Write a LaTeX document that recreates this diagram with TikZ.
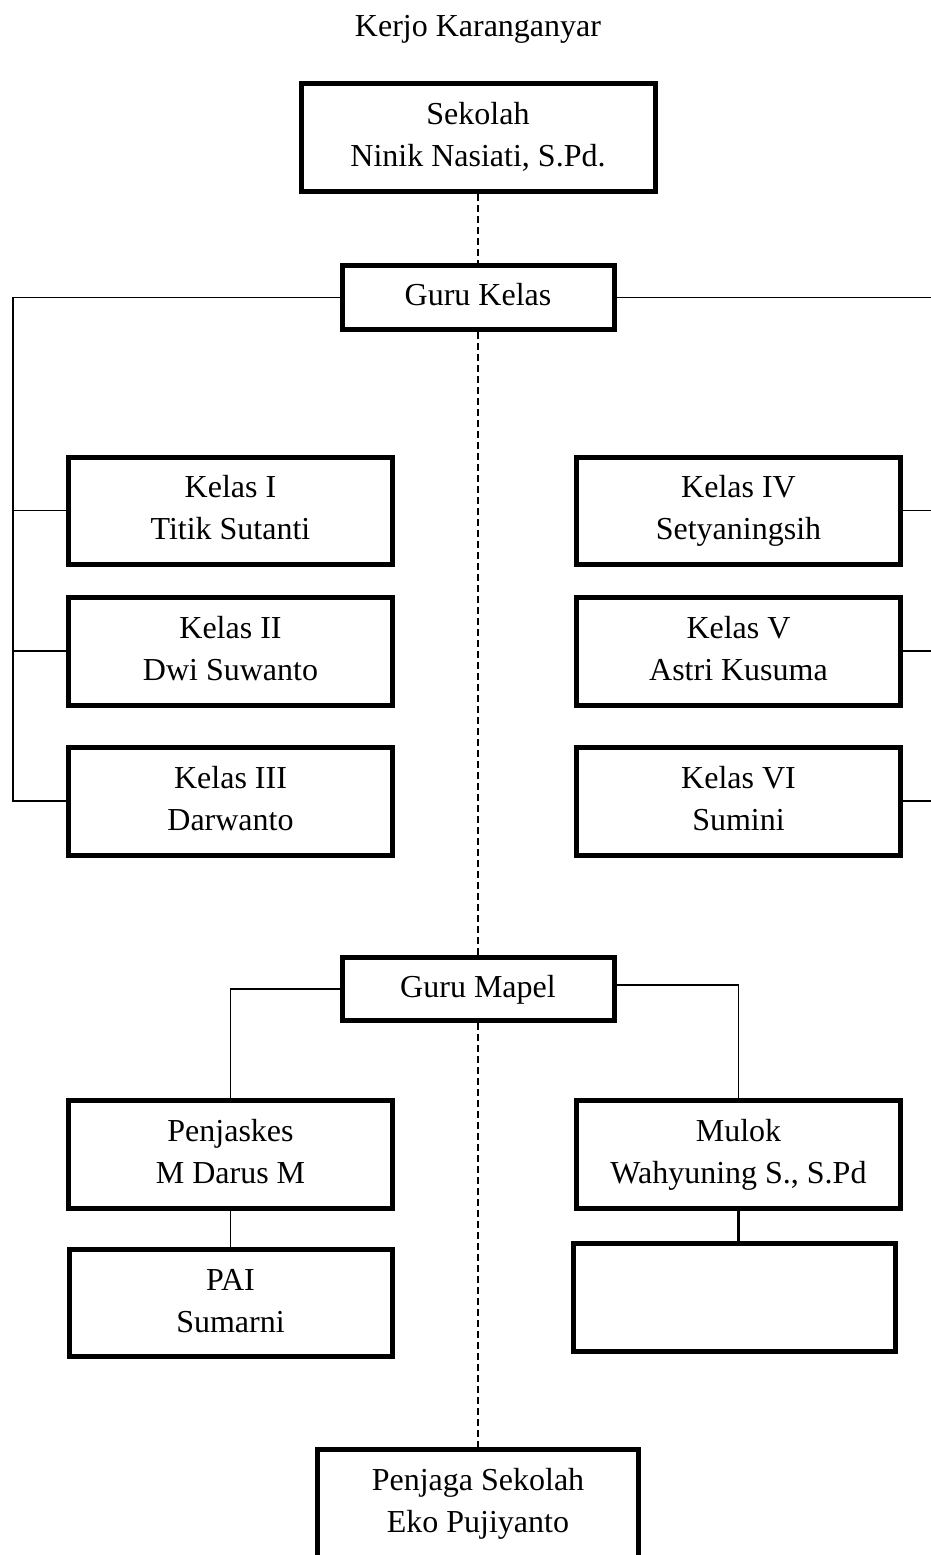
\documentclass[tikz,border=0pt]{standalone}
\usepackage{fontspec}
\setmainfont{Liberation Serif}
\begin{document}
\begin{tikzpicture}[x=0.5pt,y=-0.5pt,
  txt/.style={font=\fontsize{16}{21}\selectfont},
  box/.style 2 args={draw, line width=2.5pt, minimum width={(#1-5)*0.5pt}, minimum height={(#2-5)*0.5pt}, inner sep=0pt, align=center, txt},
  thinline/.style={line width=0.75pt},
  midline/.style={line width=1.25pt},
  dashline/.style={line width=0.65pt, dash pattern=on 3.5pt off 2pt}]
\useasboundingbox (0,0) rectangle (931,1555);
\clip (0,0) rectangle (931,1555);
\node[txt, inner sep=0pt, anchor=base] (title) at (478,36) {Kerjo Karanganyar};
\node[box={359}{113}] (sek) at (478,137.5) {\strut Sekolah\\\strut Ninik Nasiati, S.Pd.};
\node[box={277}{69}] (gk) at (478,297.5) {\strut Guru Kelas};
\node[box={329}{112}] (k1) at (230.5,510.5) {\strut Kelas I\\\strut Titik Sutanti};
\node[box={329}{113}] (k2) at (230.5,651) {\strut Kelas II\\\strut Dwi Suwanto};
\node[box={329}{113}] (k3) at (230.5,801) {\strut Kelas III\\\strut Darwanto};
\node[box={329}{112}] (k4) at (738.5,510.5) {\strut Kelas IV\\\strut Setyaningsih};
\node[box={329}{113}] (k5) at (738.5,651) {\strut Kelas V\\\strut Astri Kusuma};
\node[box={329}{113}] (k6) at (738.5,801) {\strut Kelas VI\\\strut Sumini};
\node[box={277}{68}] (gm) at (478,989) {\strut Guru Mapel};
\node[box={329}{113}] (pj) at (230.5,1154.5) {\strut Penjaskes\\\strut M Darus M};
\node[box={328}{112}] (pai) at (230.5,1303) {\strut PAI\\\strut Sumarni};
\node[box={329}{113}] (mu) at (738.5,1154.5) {\strut Mulok\\\strut Wahyuning S., S.Pd};
\node[box={327}{113}] (em) at (734.5,1297.5) {};
\node[box={326}{113}] (pg) at (478,1503.5) {\strut Penjaga Sekolah\\\strut Eko Pujiyanto};
% dashed spine
\draw[dashline] (sek.south) -- (gk.north);
\draw[dashline] (gk.south) -- (gm.north);
\draw[dashline] (gm.south) -- (pg.north);
% Guru Kelas branches
\coordinate (L) at (13,297.5);
\coordinate (R) at (936,297.5);
\draw[thinline] (gk.west) -- (L) |- (k3.west);
\draw[thinline] (L |- k1.west) -- (k1.west);
\draw[thinline] (L |- k2.west) -- (k2.west);
\draw[thinline] (gk.east) -- (R) |- (k6.east);
\draw[thinline] (R |- k4.east) -- (k4.east);
\draw[thinline] (R |- k5.east) -- (k5.east);
% Guru Mapel branches
\draw[thinline] (gm.west) -| (pj.north);
\draw[thinline] ([yshift=2pt]gm.east) -| (mu.north);
\draw[thinline] (pj.south) -- (pai.north);
\draw[midline] (mu.south) -- (mu.south |- em.north);
\end{tikzpicture}
\end{document}
